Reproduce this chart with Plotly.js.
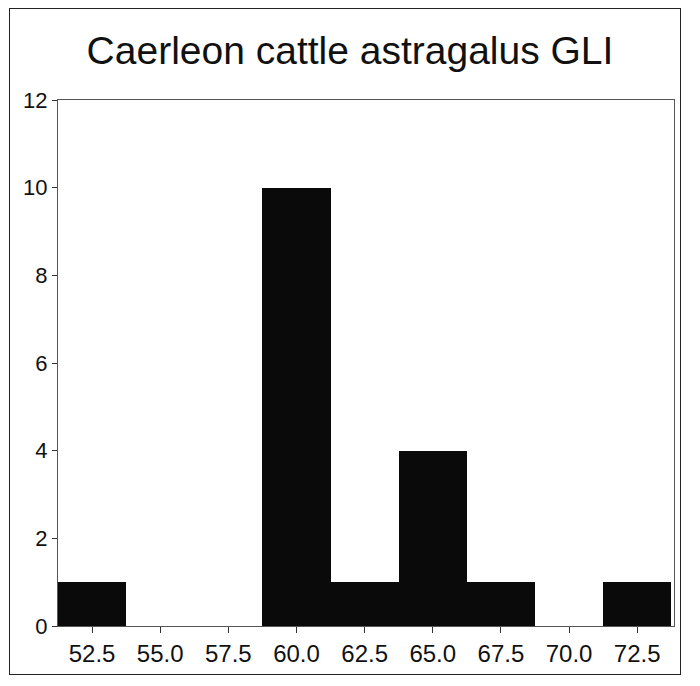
<!DOCTYPE html>
<html>
<head>
<meta charset="utf-8">
<script src="https://cdn.plot.ly/plotly-3.0.1.min.js"></script>
<style>
  html, body { margin: 0; padding: 0; background: #ffffff; }
  #frame { position: absolute; left: 9px; top: 8px; width: 672px; height: 667px; border: 1.5px solid #222; box-sizing: border-box; }
  #chart { position: absolute; left: 0; top: 0; width: 700px; height: 686px; }
</style>
</head>
<body>
<div id="frame"></div>
<div id="chart"></div>
<script>
const binCenters = [52.5, 55.0, 57.5, 60.0, 62.5, 65.0, 67.5, 70.0, 72.5];
const counts = [1, 0, 0, 10, 1, 4, 1, 0, 1];
const xTicks = [52.5, 55.0, 57.5, 60.0, 62.5, 65.0, 67.5, 70.0, 72.5];
const yTicks = [0, 2, 4, 6, 8, 10, 12];
const chartTitle = "Caerleon cattle astragalus GLI";

const trace = {
  type: "bar",
  x: binCenters,
  y: counts,
  width: 2.5,
  marker: { color: "#0a0a0a", line: { width: 0 } },
  hoverinfo: "x+y"
};

const layout = {
  width: 700,
  height: 686,
  paper_bgcolor: "rgba(0,0,0,0)",
  plot_bgcolor: "#ffffff",
  margin: { l: 58, r: 26, t: 100, b: 60 },
  showlegend: false,
  bargap: 0,
  font: { family: "Liberation Sans, Arial, sans-serif", color: "#111" },
  title: {
    text: chartTitle,
    font: { size: 39, color: "#111", family: "Liberation Sans, Arial, sans-serif" },
    x: 0.5, xanchor: "center",
    y: 0.927, yanchor: "middle"
  },
  xaxis: {
    range: [51.25, 73.85],
    tickvals: xTicks,
    tickformat: ".1f",
    ticks: "outside",
    ticklen: 6,
    tickcolor: "#333",
    showline: true,
    linecolor: "#555",
    linewidth: 1,
    mirror: true,
    showgrid: false,
    zeroline: false,
    tickfont: { size: 24, color: "#111" }
  },
  yaxis: {
    range: [0, 12],
    tickvals: yTicks,
    ticks: "outside",
    ticklen: 5,
    tickcolor: "#333",
    showline: true,
    linecolor: "#555",
    linewidth: 1,
    mirror: true,
    showgrid: false,
    zeroline: false,
    tickfont: { size: 22, color: "#111" }
  }
};

Plotly.newPlot("chart", [trace], layout, { displayModeBar: false, staticPlot: true });
</script>
</body>
</html>
